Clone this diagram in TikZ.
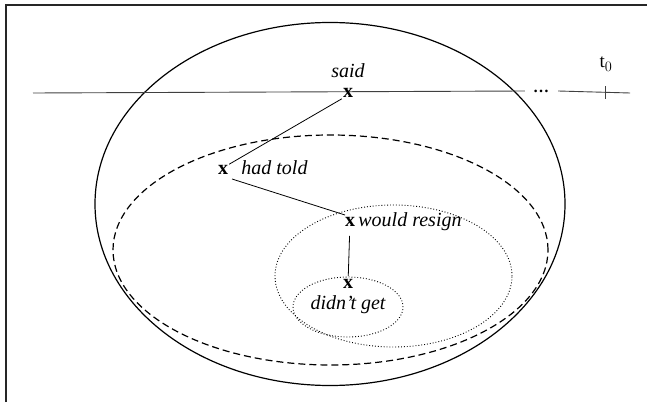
\documentclass[tikz,border=0pt]{standalone}
\usepackage{fontspec}
\setmainfont{Liberation Serif}
\usepackage{tikz}
\usetikzlibrary{positioning}
\tikzset{
  pt/.style={font=\fontsize{20}{24}\selectfont\bfseries,inner sep=1pt},
  verb/.style={font=\fontsize{20}{24}\selectfont\itshape,inner sep=1pt},
  tline/.style={draw=black!75,line width=0.9pt},
  link/.style={line width=0.8pt},
  world/.style={line width=1.2pt},
}
\begin{document}
\begin{tikzpicture}[x=1pt,y=1pt]
  \useasboundingbox (0,0) rectangle (647,402);
  % frame
  \draw[line width=1.6pt,black!85] (6,0) -- (6,397) -- (647,397);
  % worlds
  \draw[world] (330,198) ellipse [x radius=235,y radius=181.5];
  \draw[world,dashed,dash pattern=on 7pt off 4pt] (330.5,152) ellipse [x radius=217.5,y radius=115];
  \draw[line width=0.9pt,dotted] (393.5,126) ellipse [x radius=118.5,y radius=71];
  \draw[line width=0.9pt,dotted] (348,95) ellipse [x radius=55,y radius=30];
  % time line
  \coordinate (tl) at (33,309);
  \coordinate (tr) at (630,309);
  \coordinate (tick) at (605,309);
  \node[font=\fontsize{16}{18}\selectfont\bfseries,inner sep=0pt] (dots) at (541,311) {\dots};
  \draw[tline] (tl) -- ([xshift=-8pt]dots.west);
  \draw[tline] ([xshift=9pt]dots.east) -- (tr);
  \draw[tline] ([yshift=-6pt]tick) -- ([yshift=7pt]tick);
  \node[font=\fontsize{19}{22}\selectfont] (t0) at (606,338) {t$_0$};
  % events
  \node[pt] (x1) at (348,309) {x};
  \node[verb,above=8pt of x1] (said) {said};
  \node[pt] (x2) at (223,232) {x};
  \node[verb,anchor=base west] (told) at ([xshift=11pt]x2.base east) {had told};
  \node[pt] (x3) at (350,180) {x};
  \node[verb,anchor=base west] (resign) at ([xshift=1pt]x3.base east) {would resign};
  \node[pt] (x4) at (348,118) {x};
  \node[verb,below=5pt of x4] (get) {didn't get};
  \draw[link] (x1.south west) -- (x2.north east);
  \draw[link] ([shift={(9pt,-9pt)}]x2.center) -- ([shift={(-5pt,7pt)}]x3.center);
  \draw[link,shorten <=8pt,shorten >=2pt] (x3) -- (x4);
\end{tikzpicture}
\end{document}
